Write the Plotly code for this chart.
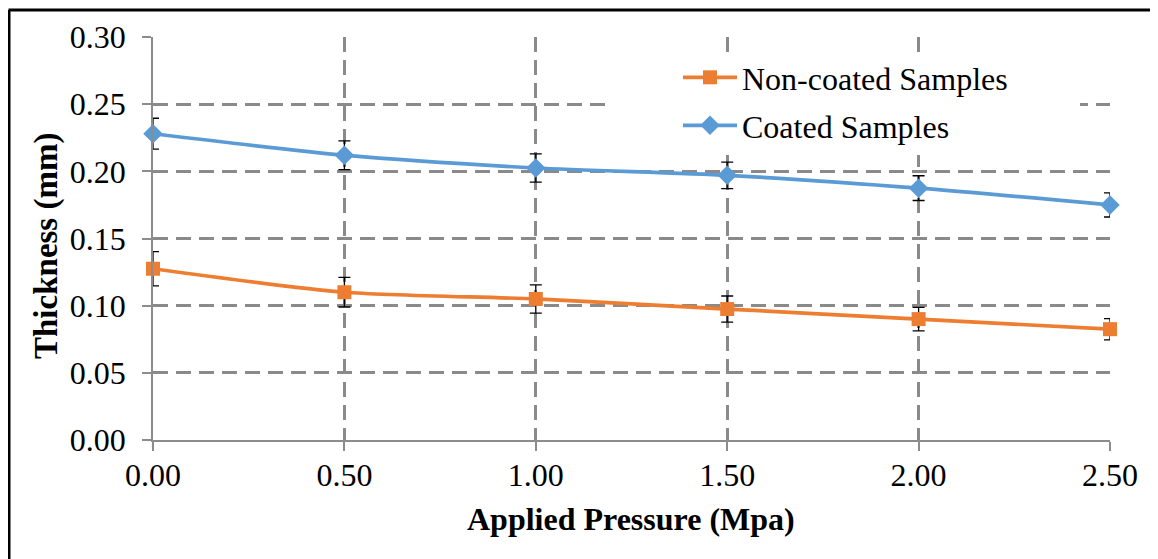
import plotly.graph_objects as go

pressure = [0.0, 0.5, 1.0, 1.5, 2.0, 2.5]
noncoated = [0.1275, 0.110, 0.105, 0.0975, 0.090, 0.0825]
noncoated_err = [0.0127, 0.011, 0.0105, 0.0097, 0.0088, 0.0079]
coated = [0.228, 0.212, 0.2025, 0.197, 0.1875, 0.175]
coated_err = [0.0115, 0.0107, 0.0105, 0.0098, 0.0092, 0.009]
x_ticks = [0.0, 0.5, 1.0, 1.5, 2.0, 2.5]
x_tick_labels = ["0.00", "0.50", "1.00", "1.50", "2.00", "2.50"]
y_ticks = [0.0, 0.05, 0.10, 0.15, 0.20, 0.25, 0.30]
y_tick_labels = ["0.00", "0.05", "0.10", "0.15", "0.20", "0.25", "0.30"]

FONT = "Liberation Serif"
ORANGE = "#ED7D31"
BLUE = "#5B9BD5"
GRID = "#8A8A8A"
AXIS = "#8C8C8C"

fig = go.Figure()
fig.add_trace(go.Scatter(
    x=pressure, y=noncoated, name="Non-coated Samples",
    mode="lines+markers", line=dict(color=ORANGE, width=3.7, shape="spline", smoothing=0.7),
    marker=dict(symbol="square", size=14, color=ORANGE),
    error_y=dict(type="data", array=noncoated_err, color="black", thickness=1.3, width=6),
    cliponaxis=False, legend="legend",
))
fig.add_trace(go.Scatter(
    x=pressure, y=coated, name="Coated Samples",
    mode="lines+markers", line=dict(color=BLUE, width=3.7, shape="spline", smoothing=0.7),
    marker=dict(symbol="diamond", size=15, color=BLUE),
    error_y=dict(type="data", array=coated_err, color="black", thickness=1.3, width=6),
    cliponaxis=False, legend="legend2",
))

W, H = 1158, 559
OFF = 8  # page body margin offset in the screenshot
PX0, PX1, PY0, PY1 = 153, 1110, 37, 440
L = PX0 - OFF
T = PY0 - OFF
R = W - L - (PX1 - PX0)
B = H - T - (PY1 - PY0)
pw, ph = PX1 - PX0, PY1 - PY0

def px_x(p):
    return (p - PX0) / pw

def px_y(p):
    return (PY1 - p) / ph

shapes = [
    dict(type="rect", xref="paper", yref="paper", x0=px_x(608), x1=px_x(1080),
         y0=px_y(155), y1=px_y(55), fillcolor="white", line=dict(width=0), layer="above"),
    dict(type="line", xref="paper", yref="paper", x0=px_x(8.5), x1=px_x(1200),
         y0=px_y(10), y1=px_y(10), line=dict(color="black", width=3)),
    dict(type="line", xref="paper", yref="paper", x0=px_x(9), x1=px_x(9),
         y0=px_y(10), y1=px_y(620), line=dict(color="black", width=3)),
]

legend_common = dict(xanchor="left", yanchor="top", bgcolor="rgba(0,0,0,0)",
                     font=dict(family=FONT, size=32), itemwidth=54)

fig.update_layout(
    width=W, height=H,
    margin=dict(l=L, r=R, t=T, b=B),
    paper_bgcolor="white", plot_bgcolor="white",
    font=dict(family=FONT, size=32, color="black"),
    showlegend=True,
    legend=dict(x=px_x(678), y=px_y(50), **legend_common),
    legend2=dict(x=px_x(678), y=px_y(98), **legend_common),
    shapes=shapes,
    annotations=[
        dict(text="<b>Applied Pressure (Mpa)</b>", xref="paper", yref="paper",
             x=px_x(631), y=0, xanchor="center", yanchor="middle", yshift=-79,
             showarrow=False, font=dict(family=FONT, size=32, color="black")),
        dict(text="<b>Thickness (mm)</b>", xref="paper", yref="paper",
             x=0, y=px_y(246), xanchor="center", yanchor="middle", xshift=-(PX0 - 46),
             textangle=-90, showarrow=False, font=dict(family=FONT, size=33, color="black")),
    ],
)

fig.update_xaxes(
    range=[0, 2.5], tickvals=x_ticks, ticktext=x_tick_labels,
    showline=True, linecolor=AXIS, linewidth=1.5,
    ticks="outside", ticklen=9, tickcolor=AXIS, tickwidth=1.5,
    showgrid=True, gridcolor=GRID, gridwidth=2.5, griddash="15px,8px",
    zeroline=False, ticklabelstandoff=-3,
    tickfont=dict(family=FONT, size=32),
)
fig.update_yaxes(
    range=[0, 0.30], tickvals=y_ticks, ticktext=y_tick_labels,
    showline=True, linecolor=AXIS, linewidth=1.5,
    ticks="outside", ticklen=9, tickcolor=AXIS, tickwidth=1.5,
    showgrid=True, gridcolor=GRID, gridwidth=2.5, griddash="15px,8px",
    zeroline=False, ticklabelstandoff=10,
    tickfont=dict(family=FONT, size=32),
)

fig.write_html("out.html")
